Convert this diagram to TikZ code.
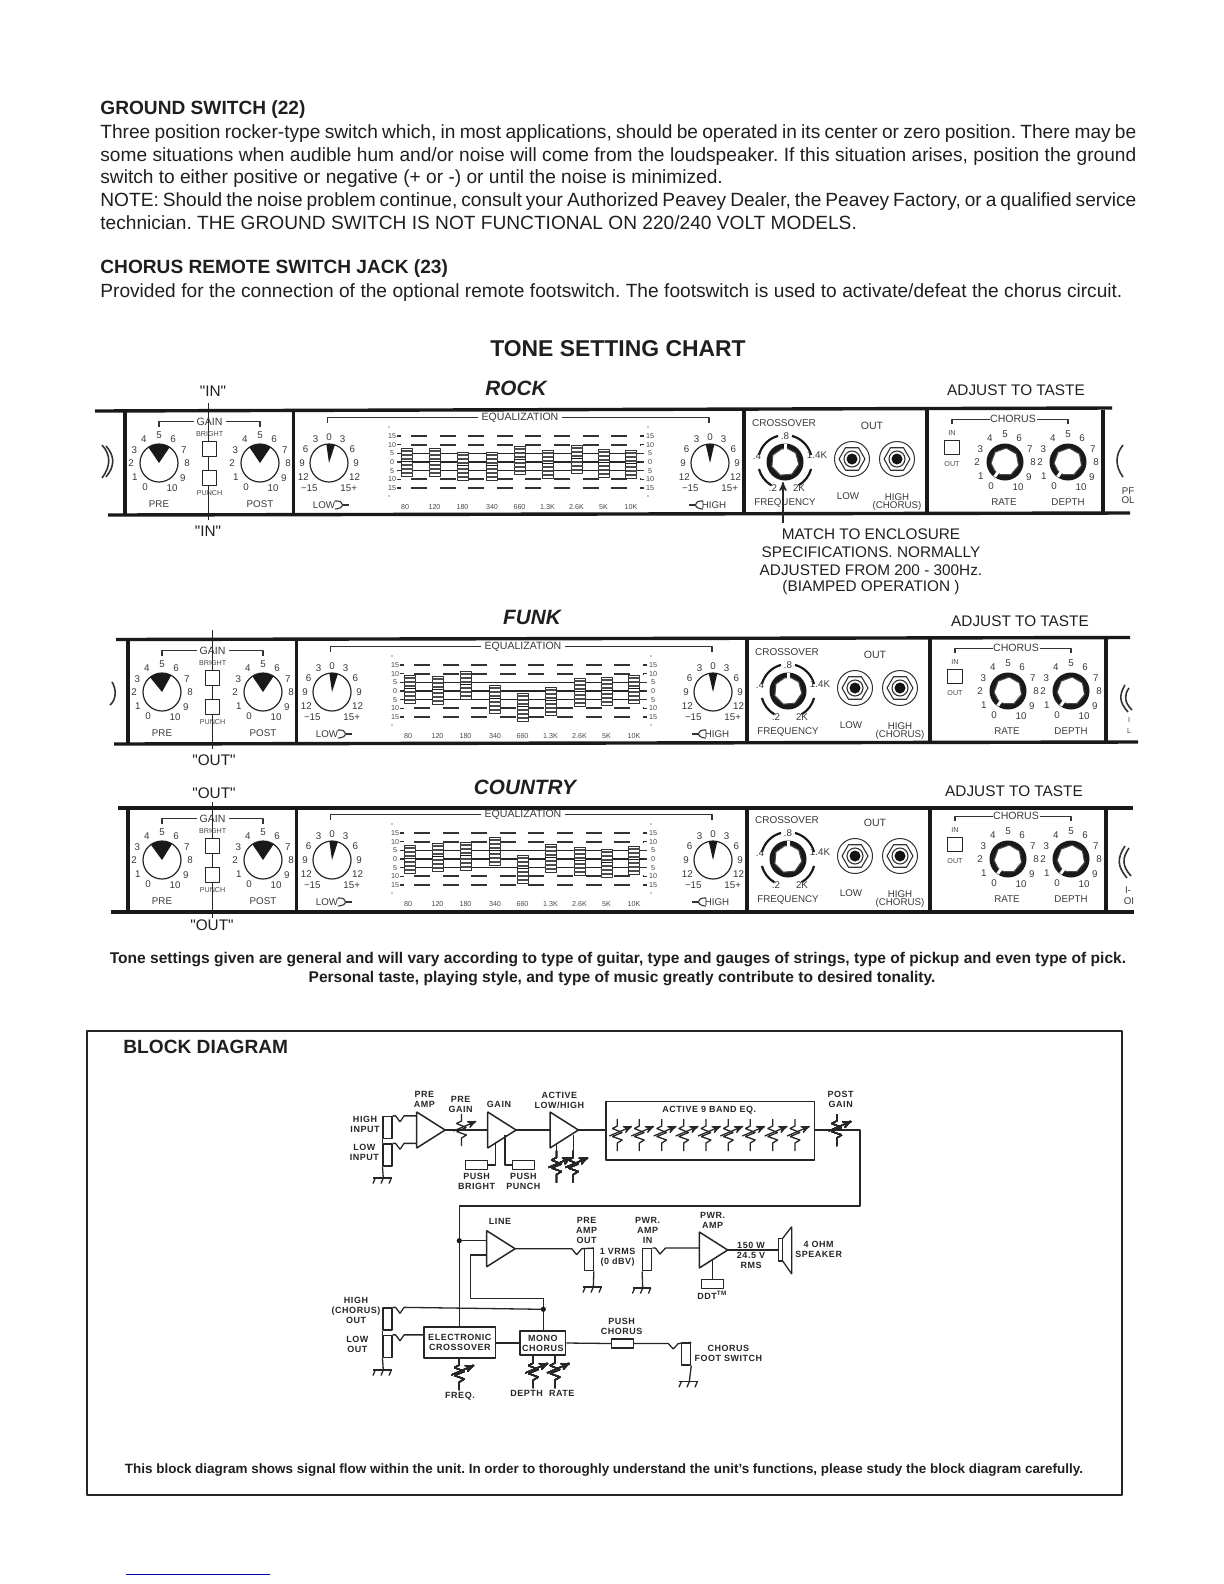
\documentclass[tikz,border=0pt]{standalone}
\usepackage[x11names, svgnames, rgb]{xcolor}
\usepackage{fontspec}
\usepackage{tikz}
\usetikzlibrary{arrows,shapes}
\setmainfont{Liberation Sans}
\newfontfamily\blockfamily[LetterSpace=6]{Liberation Sans}
\newfontfamily\plainfamily{Liberation Sans}
\newcommand{\blockfont}{\blockfamily\bfseries\fontsize{4.5}{5}\selectfont}
\newcommand{\fixfont}[1]{\fontsize{#1}{#1}\selectfont}
\newcommand{\fillline}[2]{\hbox to #1bp{#2}}
\newcommand{\dq}{{\plainfamily\char34 }}
\tikzset{
  bodytext/.style={anchor=base west,inner sep=0pt,font=\fixfont{9.6},text=Black!88},
  headtext/.style={anchor=base west,inner sep=0pt,font=\fixfont{9.6}\bfseries,text=Black!88},
  stylename/.style={inner sep=0pt,font=\fixfont{10.4}\bfseries\itshape,text=Black!88},
  notetext/.style={inner sep=0pt,font=\fixfont{7.7},text=Black!88,align=center},
  captext/.style={inner sep=0pt,font=\fixfont{7.8}\bfseries,text=Black!88},
  panelline/.style={line width=1.7bp,draw=Black!90},
  panelthin/.style={line width=0.55bp,draw=Black!80},
  grouplabel/.style={inner sep=0pt,font=\fixfont{5.3},text=Black!78},
  knoblabel/.style={inner sep=0pt,font=\fixfont{4.9},text=Black!78},
  tinylabel/.style={inner sep=0pt,font=\fixfont{3.6},text=Black!72},
  switchbox/.style={draw=Black!85,fill=White,line width=0.6bp,rectangle,inner sep=0pt,
    minimum width=7.2bp,minimum height=7.2bp},
  wire/.style={line width=0.65bp,draw=Black!85,line join=bevel},
  blocklabel/.style={inner sep=0pt,font=\blockfont,align=center,text=Black!85},
  jackbox/.style={draw=Black!85,line width=0.65bp,fill=White,rectangle,inner sep=0pt,
    minimum width=4.4bp,minimum height=11bp},
  partbox/.style={draw=Black!85,line width=0.65bp,fill=White,rectangle,inner sep=0pt,
    minimum width=11bp,minimum height=4.4bp},
  blockbox/.style={draw=Black!85,line width=0.8bp,fill=White,rectangle,inner sep=0pt,
    font=\blockfont,align=center,text=Black!85},
  amp/.style={isosceles triangle,isosceles triangle stretches,shape border rotate=0,
    draw=Black!85,line width=0.75bp,fill=White,inner sep=0pt,outer sep=0pt,
    minimum width=18bp,minimum height=14.2bp,anchor=west},
}
%% dial with a black wedge
\newcommand{\wedgeknob}[5]{
  \begin{scope}[shift={(#2,#3)},y=0.5bp]
  \node (#1) at (0,0) [circle,draw=Black!85,line width=0.6bp,minimum size=19bp,inner sep=0pt] {};
  \fill [Black!90] (0,0) -- (#4-#5:19) arc (#4-#5:#4+#5:19) -- cycle;
  \end{scope}
}
%% 0 to 10 around a dial
\newcommand{\tenscale}[3]{
  \begin{scope}[shift={(#2,#3)},y=0.5bp]
  \foreach \lab/\ang in {0/240,1/210,2/180,3/152,4/123,5/90,6/60,7/28,8/0,9/328,10/298}
    \node (#1-\ang) at (\ang:28) [knoblabel] {\lab};
  \end{scope}
}
%% -15 to 15 around a dial
\newcommand{\cutscale}[3]{
  \begin{scope}[shift={(#2,#3)},y=0.5bp]
  \foreach \lab/\ang/\rad in {{−15}/232/32,12/208/29,9/180/27,6/150/27,3/120/27,0/90/26,3/60/27,6/30/27,9/0/27,12/332/29,{15+}/308/32}
    \node (#1-\ang) at (\ang:\rad) [knoblabel] {\lab};
  \end{scope}
}
%% black ring with a white cap
\newcommand{\capknob}[4]{
  \begin{scope}[shift={(#2,#3)},y=0.5bp]
  \node (#1) at (0,0) [circle,fill=Black!90,minimum size=18.5bp,inner sep=0pt] {};
  \begin{scope}[rotate=#4]
  \draw [fill=White,draw=Black!70,line width=0.5bp] (15:13.5) -- (60:14) -- (110:14) -- (160:14) -- (210:14) -- (260:14) -- (310:14) -- (345:13.5) -- cycle;
  \draw [White,line width=1.5bp] (0:11) -- (0:18);
  \end{scope}
  \end{scope}
}
%% output socket
\newcommand{\socket}[3]{
  \begin{scope}[shift={(#2,#3)},y=0.5bp]
  \node (#1) at (0,0) [circle,draw=Black!80,line width=0.5bp,minimum size=17.5bp,inner sep=0pt] {};
  \draw [panelthin] (0:13) -- (60:13) -- (120:13) -- (180:13) -- (240:13) -- (300:13) -- cycle;
  \draw [panelthin] (0,0) circle (8);
  \fill [Black!92] (0,0) circle (5.5);
  \end{scope}
}
%% one rack strip
\newcommand{\tonepanel}[8]{
  \begin{scope}[shift={(#2,#3)}]
  \foreach \divx in {125,293.6,744,927,1103}
    \draw [panelline] (\divx,410) -- (\divx,514);
  %% gain
  \draw [panelthin] (159,427) -- (159,421.7) -- (194,421.7);
  \draw [panelthin] (226,421.7) -- (260,421.7) -- (260,427);
  \node (#1-gain) at (209.6,421.7) [grouplabel] {GAIN};
  \node (#1-bright) at (209.6,434) [tinylabel] {BRIGHT};
  \node (#1-brightsw) at (209.6,449) [switchbox] {};
  \node (#1-punchsw) at (209.6,478) [switchbox] {};
  \node (#1-punch) at (209.6,493) [tinylabel] {PUNCH};
  \wedgeknob{#1-pre}{159}{463}{#4}{34}
  \tenscale{#1-prescale}{159}{463}
  \wedgeknob{#1-post}{260}{463}{#5}{34}
  \tenscale{#1-postscale}{260}{463}
  \node (#1-prelab) at (159,504) [knoblabel] {PRE};
  \node (#1-postlab) at (260,504) [knoblabel] {POST};
  %% equalizer
  \draw [panelthin] (327.5,423) -- (327.5,417.7) -- (478,417.7);
  \draw [panelthin] (562,417.7) -- (709,417.7) -- (709,423);
  \node (#1-eq) at (520,417.5) [grouplabel] {EQUALIZATION};
  \wedgeknob{#1-low}{329}{463}{#6}{13}
  \cutscale{#1-lowscale}{329}{463}
  \wedgeknob{#1-high}{710}{463}{#7}{13}
  \cutscale{#1-highscale}{710}{463}
  \node (#1-lowlab) at (324,505) [knoblabel] {LOW};
  \draw [panelthin] (335,501) .. controls (345,500) and (345,509) .. (335,509);
  \draw [panelthin] (342.5,505) -- (349,505);
  \node (#1-highlab) at (714,505) [knoblabel] {HIGH};
  \draw [panelthin] (703,501) .. controls (693,500) and (693,509) .. (703,509);
  \draw [panelthin] (689,505) -- (695.5,505);
  \foreach \lab/\yc [count=\c] in {15/436,10/444.7,5/453.3,0/462,5/470.7,10/479.3,15/488}{
    \node (#1-left\c) at (392,\yc) [tinylabel] {\lab};
    \node (#1-right\c) at (650,\yc) [tinylabel] {\lab};
    \draw [panelthin] (397,\yc) -- (401,\yc);
    \draw [panelthin] (640,\yc) -- (644,\yc);
  }
  \foreach \yc in {436,444.7,479.3,488}
    \draw [line width=0.9bp,draw=Black!80,dash pattern=on 8bp off 6.3bp] (411,\yc) -- (640,\yc);
  \foreach \yc in {453.3,462,470.7}
    \draw [line width=0.7bp,draw=Black!85] (401,\yc) -- (640,\yc);
  \foreach \off [count=\c] in {#8}{
    \pgfmathsetmacro{\colx}{{407,434.5,462.5,492,519.5,547.5,576.5,603.5,631}[\c-1]}
    \draw [fill=White,draw=Black!80,line width=0.5bp] (\colx-5.5,448+\off) rectangle (\colx+5.5,476+\off);
    \foreach \bar in {451,455,459,465,469,473}
      \fill [Black!70] (\colx-5.5,\bar+\off-1) rectangle (\colx+5.5,\bar+\off+1);
    \fill [Black!90] (\colx-5.5,461+\off) rectangle (\colx+5.5,462+\off);
  }
  \foreach \lab/\colx [count=\c] in {80/405,120/434.5,180/462.5,340/492,660/519.5,1.3K/547.5,2.6K/576.5,5K/603.5,10K/631}
    \node (#1-band\c) at (\colx,507) [tinylabel] {\lab};
  \fill (389,427) circle (0.7);
  \fill (389,496) circle (0.7);
  \fill (648,427) circle (0.7);
  \fill (648,496) circle (0.7);
  %% crossover
  \node (#1-cross) at (784,423) [knoblabel,font=\fixfont{5}] {CROSSOVER};
  \capknob{#1-freq}{785}{462}{90}
  \begin{scope}[shift={(785,462)},y=0.5bp]
  \foreach \arcfrom/\arcto in {105/165,15/75,195/240,300/345}
    \draw [line width=1.1bp,draw=Black!90] (\arcfrom:27) arc (\arcfrom:\arcto:27);
  \end{scope}
  \node (#1-f8) at (785,436) [knoblabel] {.8};
  \node (#1-f4) at (757,456) [knoblabel] {.4};
  \node (#1-f14) at (817,455) [knoblabel] {1.4K};
  \node (#1-f2) at (773,488) [knoblabel] {.2};
  \node (#1-f2k) at (799,488) [knoblabel] {2K};
  \node (#1-freqlab) at (785,503) [knoblabel] {FREQUENCY};
  %% outputs
  \node (#1-out) at (872,426) [grouplabel] {OUT};
  \socket{#1-jacklow}{852}{459}
  \socket{#1-jackhigh}{897}{459}
  \node (#1-lowout) at (848,496) [knoblabel] {LOW};
  \node (#1-highout) at (897,497) [knoblabel] {HIGH};
  \node (#1-chorusout) at (897,505.5) [knoblabel] {(CHORUS)};
  %% chorus
  \draw [panelthin] (952,424) -- (952,419.5) -- (990,419.5);
  \draw [panelthin] (1037,419.5) -- (1068,419.5) -- (1068,424);
  \node (#1-chorus) at (1013,419) [grouplabel] {CHORUS};
  \node (#1-in) at (952,433) [tinylabel] {IN};
  \node (#1-chorussw) at (952,447.5) [switchbox] {};
  \node (#1-outsw) at (952,464) [tinylabel] {OUT};
  \capknob{#1-rate}{1005}{462}{235}
  \tenscale{#1-ratescale}{1005}{462}
  \capknob{#1-depth}{1068}{462}{235}
  \tenscale{#1-depthscale}{1068}{462}
  \node (#1-ratelab) at (1004,502) [knoblabel] {RATE};
  \node (#1-depthlab) at (1068,502) [knoblabel] {DEPTH};
  \end{scope}
}
%% variable resistor
\newcommand{\potmeter}[3]{
  \begin{scope}[shift={(#2,#3)},y=0.5bp]
  \coordinate (#1) at (0,0);
  \coordinate (#1-top) at (0,16);
  \coordinate (#1-bot) at (0,-16);
  \draw [wire] (#1-top) -- (0,9) -- (-5,6.5) -- (5,2.5) -- (-5,-1.5) -- (5,-5) -- (0,-8) -- (#1-bot);
  \draw [wire,-stealth',shorten >=-1pt] (-8,-1) -- (13,8);
  \end{scope}
}
%% ground
\newcommand{\groundsym}[3]{
  \coordinate (#1) at (#2,#3);
  \draw [wire] (#2-10,#3) -- (#2+8.5,#3);
  \foreach \tick in {-8,0,8}
    \draw [wire] (#2+\tick,#3) -- (#2+\tick-2.3,#3+5.5);
}
\begin{document}
\frenchspacing
\begin{tikzpicture}[x=0.5bp,y=-0.5bp, >=latex',line join=bevel,]
\useasboundingbox (0,0) rectangle (1224,1584);
%%
\node (ground-head) at (100,114) [headtext] {GROUND SWITCH (22)};
\node (ground-a) at (100,138) [bodytext] {\fillline{518}{Three position rocker-type switch which, in most applications, should be operated in its center or zero position. There may be}};
\node (ground-b) at (100,161) [bodytext] {\fillline{518}{some situations when audible hum and/or noise will come from the loudspeaker. If this situation arises, position the ground}};
\node (ground-c) at (100,183) [bodytext] {switch to either positive or negative (+ or -) or until the noise is minimized.};
\node (ground-d) at (100,206) [bodytext] {\fillline{518}{NOTE: Should the noise problem continue, consult your Authorized Peavey Dealer, the Peavey Factory, or a qualified service}};
\node (ground-e) at (100,229) [bodytext] {technician. THE GROUND SWITCH IS NOT FUNCTIONAL ON 220/240 VOLT MODELS.};
\node (jack-head) at (100,273) [headtext] {CHORUS REMOTE SWITCH JACK (23)};
\node (jack-a) at (100,297) [bodytext] {\fillline{511}{Provided for the connection of the optional remote footswitch. The footswitch is used to activate/defeat the chorus circuit.}};
\node (chart-title) at (618,349) [inner sep=0pt,font=\fixfont{11.5}\bfseries,text=Black!88] {TONE SETTING CHART};
%%
\node (rock-name) at (516,388) [stylename] {ROCK};
\node (rock-taste) at (1016,390) [notetext] {ADJUST TO TASTE};
\node (rock-in-top) at (213,391) [notetext] {\dq IN\dq};
\node (rock-in-bot) at (208,531) [notetext] {\dq IN\dq};
\coordinate (rock-sw-top) at (208.5,403);
\coordinate (rock-sw-bot) at (208.5,520);
\draw [wire] (rock-sw-top) -- (rock-sw-bot);
\draw [panelline] (95,411) -- (1112,408);
\draw [panelline] (108,515) -- (1130,513);
\tonepanel{rock}{0}{0}{90}{90}{85}{90}{0,0,4,4,-2,2,-3,1,2}
\node (rock-match) at (871,534) [notetext] {MATCH TO ENCLOSURE};
\node (rock-spec) at (871,552) [notetext] {SPECIFICATIONS. NORMALLY};
\node (rock-range) at (871,570) [notetext] {ADJUSTED FROM 200 - 300Hz.};
\node (rock-biamp) at (871,588) [notetext] {(BIAMPED OPERATION )};
\coordinate (rock-arrow-bot) at (783,523);
\coordinate (rock-arrow-top) at (783,482);
\draw [wire,-stealth'] (rock-arrow-bot) -- (rock-arrow-top);
\draw [panelthin,line width=0.8bp] (102,445) .. controls (111,455) and (111,466) .. (102,478);
\draw [panelthin,line width=0.8bp] (106,446) .. controls (115,456) and (115,466) .. (106,477);
\draw [panelthin,line width=0.8bp] (1123,445) .. controls (1115,455) and (1115,466) .. (1123,477);
\node (rock-edge-a) at (1128,491) [knoblabel] {PF};
\node (rock-edge-b) at (1128,500) [knoblabel] {OL};
%%
\node (funk-name) at (532,617) [stylename] {FUNK};
\node (funk-taste) at (1020,621) [notetext] {ADJUST TO TASTE};
\node (funk-out-bot) at (214,760) [notetext] {\dq OUT\dq};
\coordinate (funk-sw-top) at (212.6,630);
\coordinate (funk-sw-bot) at (212.6,749);
\draw [wire] (funk-sw-top) -- (funk-sw-bot);
\draw [panelline] (116,639.5) -- (1130,637.5);
\draw [panelline] (114,744) -- (1138,742);
\tonepanel{funk}{3}{229}{95}{90}{85}{90}{-2,-1,-6,8,16,10,1,0,-2}
\draw [panelthin,line width=0.8bp] (112,682) .. controls (117,690) and (116,700) .. (110,705);
\draw [panelthin,line width=0.8bp] (1125,685) .. controls (1119,695) and (1119,702) .. (1128,712);
\draw [panelthin,line width=0.8bp] (1129,688) .. controls (1124,695) and (1124,702) .. (1132,710);
\node (funk-edge-a) at (1129,720) [tinylabel] {I};
\node (funk-edge-b) at (1129,731) [tinylabel] {L};
%%
\node (country-name) at (525,787) [stylename] {COUNTRY};
\node (country-taste) at (1014,791) [notetext] {ADJUST TO TASTE};
\node (country-out-top) at (214,793) [notetext] {\dq OUT\dq};
\node (country-out-bot) at (212,925) [notetext] {\dq OUT\dq};
\coordinate (country-sw-top) at (212.6,802);
\coordinate (country-sw-bot) at (212.6,918);
\draw [wire] (country-sw-top) -- (country-sw-bot);
\draw [panelline] (118,808) -- (1133,808);
\draw [panelline] (111,912) -- (1134,912);
\tonepanel{country}{3}{397}{92}{90}{85}{90}{0,-2,-3,-8,10,-1,2,4,1}
\draw [panelthin,line width=0.8bp] (1125,846) .. controls (1117,858) and (1117,866) .. (1127,878);
\draw [panelthin,line width=0.8bp] (1129,848) .. controls (1122,858) and (1122,866) .. (1131,876);
\node (country-edge-a) at (1128,890) [knoblabel] {I-};
\node (country-edge-b) at (1129,901) [knoblabel] {OI};
%%
\node (tone-note-a) at (618,960) [captext] {Tone settings given are general and will vary according to type of guitar, type and gauges of strings, type of pickup and even type of pick.};
\node (tone-note-b) at (622,979) [captext] {Personal taste, playing style, and type of music greatly contribute to desired tonality.};
%%
\draw [line width=0.9bp,draw=Black!85] (87,1031) rectangle (1122,1495);
\node (block-title) at (123,1047) [anchor=west,inner sep=0pt,font=\fixfont{9.6}\bfseries,text=Black!88] {BLOCK DIAGRAM};
\node (block-note) at (604,1470) [captext,font=\fixfont{6.75}\bfseries] {This block diagram shows signal flow within the unit. In order to thoroughly understand the unit's functions, please study the block diagram carefully.};
%% amplifiers
\node (preamp) at (416.7,1130) [amp] {};
\node (gainamp) at (487.7,1130) [amp] {};
\node (activeamp) at (550,1130) [amp] {};
\node (lineamp) at (486.7,1248.7) [amp] {};
\node (pwramp) at (699.3,1250) [amp] {};
%% boxes
\node (jackhigh) at (387.5,1127.5) [jackbox] {};
\node (jacklow) at (387.5,1155) [jackbox] {};
\node (eqbox) at (710,1130.8) [draw=Black!85,line width=0.8bp,rectangle,inner sep=0pt,minimum width=104.3bp,minimum height=29.2bp] {};
\node (bright) at (476.7,1165) [partbox] {};
\node (punch) at (523.2,1165) [partbox] {};
\node (jackpre) at (588.8,1259.7) [jackbox] {};
\node (jackpwr) at (647.2,1259.7) [jackbox] {};
\node (ddt) at (712.2,1284.2) [partbox] {};
\node (jackchorus) at (387.5,1319) [jackbox] {};
\node (jackxlow) at (387.5,1346.5) [jackbox] {};
\node (crossover) at (459.8,1342.2) [blockbox,minimum width=35.8bp,minimum height=15.5bp] {ELECTRONIC\\CROSSOVER};
\node (monochorus) at (542.8,1343) [blockbox,minimum width=22.8bp,minimum height=12bp] {MONO\\CHORUS};
\node (pushchorus) at (622.5,1343.5) [partbox] {};
\node (jackfoot) at (686.2,1354) [jackbox] {};
%% pots
\potmeter{pregain}{461.5}{1130}
\foreach \potx [count=\c] in {617.3,639.3,661.7,683.7,706,728.3,750.3,772.7,795}
  \potmeter{band\c}{\potx}{1135}
\potmeter{postgain}{836.7}{1130}
\potmeter{activelow}{556.5}{1166.5}
\potmeter{activehigh}{573.3}{1166.5}
\potmeter{freq}{459.3}{1374}
\potmeter{depth}{533.3}{1372}
\potmeter{rate}{555}{1372}
%% wires
\coordinate (feed-corner) at (860,1130);
\coordinate (feed-low) at (860,1206);
\coordinate (feed-left) at (459.3,1206);
\coordinate (line-tap) at (459.3,1240.7);
\coordinate (line-return) at (470.7,1255);
\coordinate (return-low) at (470.7,1298.3);
\coordinate (return-right) at (543.3,1298.3);
\coordinate (chorus-tap) at (543.3,1309.3);
\draw [wire] (jackhigh.north east) -- ++(3,0) -- ++(4.5,6) -- ++(4,-6) -- (preamp.west |- jackhigh.north);
\draw [wire] (jacklow.north east) -- ++(3,0) -- ++(4.5,6) -- ++(4,-6) -- (preamp.west |- jacklow.north);
\draw [wire] (jackhigh.south west) -- (jacklow.north west);
\groundsym{groundin}{383.3}{1178}
\draw [wire] (jacklow.south west) -- (groundin);
\draw [wire] (preamp.apex) -- (gainamp.west);
\draw [wire] (gainamp.apex) -- (activeamp.west);
\draw [wire] (activeamp.apex) -- (eqbox.west |- activeamp.apex);
\draw [wire] (eqbox.east |- feed-corner) -- (feed-corner) -- (feed-low) -- (feed-left) -- (crossover.north -| feed-left);
\fill [Black!90] (line-tap) circle (2.6);
\draw [wire] (line-tap) -- (lineamp.west |- line-tap);
\draw [wire] (lineamp.west |- line-return) -- (line-return) -- (return-low) -- (return-right) -- (monochorus.north -| return-right);
\fill [Black!90] (chorus-tap) circle (2.6);
\coordinate (bright-drop) at (495.7,1141.7);
\draw [wire] (bright-drop) -- (bright-drop |- bright.east) -- (bright.east);
\coordinate (punch-drop) at (505,1135);
\draw [wire] (punch-drop) -- (punch-drop |- punch.west) -- (punch.west);
\coordinate (activelow-drop) at (556.5,1144);
\draw [wire] (activelow-drop) -- (activelow-top);
\coordinate (activehigh-drop) at (573.3,1135);
\draw [wire] (activehigh-drop) -- (activehigh-top);
\draw [wire] (lineamp.apex) -- (571.7,1248.7) -- ++(5,6) -- ++(5,-6) -- (jackpre.north east);
\groundsym{groundpre}{593.3}{1287}
\draw [wire] (jackpre.south east) -- (groundpre);
\draw [wire] (jackpwr.north east) -- ++(3.3,0) -- ++(4.3,6) -- ++(5.7,-6) -- (pwramp.west |- jackpwr.north);
\groundsym{groundpwr}{642.7}{1288}
\draw [wire] (jackpwr.south west) -- (groundpwr);
\coordinate (ddt-drop) at (712.2,1259);
\draw [wire] (ddt-drop) -- (ddt.north);
\coordinate (speaker) at (778.3,1250);
\draw [wire] (pwramp.apex) -- (speaker);
\draw [wire] (778.3,1238.3) rectangle (782.7,1261);
\draw [wire] (782.7,1238.3) -- (791.7,1226.7) -- (791.7,1274) -- (782.7,1261);
\draw [wire] (jackchorus.north east) -- ++(3,0) -- ++(4.5,6) -- ++(4,-6) -- (chorus-tap);
\draw [wire] (jackxlow.north east) -- ++(3,0) -- ++(4.5,6) -- ++(4,-6) -- (crossover.west |- jackxlow.north);
\draw [wire] (jackchorus.south west) -- (jackxlow.north west);
\groundsym{groundout}{383.3}{1370}
\draw [wire] (jackxlow.south west) -- (groundout);
\draw [wire] (crossover.east |- monochorus.west) -- (monochorus.west);
\draw [wire] (monochorus.east) -- (pushchorus.west);
\draw [wire] (pushchorus.east) -- (668.3,1343.5) -- ++(5,5.5) -- ++(5,-5.5) -- (jackfoot.north east);
\groundsym{groundfoot}{689.3}{1381.7}
\draw [wire] (jackfoot.south east) -- (groundfoot);
\draw [wire] (freq-top) -- (freq-top |- crossover.south);
\draw [wire] (depth-top) -- (depth-top |- monochorus.south);
\draw [wire] (rate-top) -- (rate-top |- monochorus.south);
%% labels
\node (lab-preamp) at (424.3,1099.3) [blocklabel] {PRE\\AMP};
\node (lab-pregain) at (460.7,1104) [blocklabel] {PRE\\GAIN};
\node (lab-gain) at (499,1104.3) [blocklabel] {GAIN};
\node (lab-active) at (559.3,1100) [blocklabel] {ACTIVE\\LOW/HIGH};
\node (lab-high) at (365,1124.3) [blocklabel] {HIGH\\INPUT};
\node (lab-low) at (364.3,1152) [blocklabel] {LOW\\INPUT};
\node (lab-bright) at (476.7,1181) [blocklabel] {PUSH\\BRIGHT};
\node (lab-punch) at (523.3,1181) [blocklabel] {PUSH\\PUNCH};
\node (lab-eq) at (709.3,1110.7) [blocklabel] {ACTIVE 9 BAND EQ.};
\node (lab-post) at (840.7,1099) [blocklabel] {POST\\GAIN};
\node (lab-line) at (500,1221.7) [blocklabel] {LINE};
\node (lab-preout) at (586.7,1230) [blocklabel] {PRE\\AMP\\OUT};
\node (lab-pwrin) at (647.7,1230) [blocklabel] {PWR.\\AMP\\IN};
\node (lab-pwr) at (712.7,1220) [blocklabel] {PWR.\\AMP};
\node (lab-vrms) at (617.7,1257.3) [blocklabel] {1 VRMS\\(0 dBV)};
\node (lab-watts) at (751,1255.3) [blocklabel] {150 W\\24.5 V\\RMS};
\node (lab-speaker) at (818.7,1249) [blocklabel] {4 OHM\\SPEAKER};
\node (lab-ddt) at (712.3,1295) [blocklabel] {DDT\textsuperscript{TM}};
\node (lab-chorusout) at (356,1310.3) [blocklabel] {HIGH\\(CHORUS)\\OUT};
\node (lab-lowout) at (357.3,1344.3) [blocklabel] {LOW\\OUT};
\node (lab-freq) at (460,1396.7) [blocklabel] {FREQ.};
\node (lab-depth) at (526.7,1393.3) [blocklabel] {DEPTH};
\node (lab-rate) at (561.7,1393.3) [blocklabel] {RATE};
\node (lab-push) at (621.7,1326.7) [blocklabel] {PUSH\\CHORUS};
\node (lab-foot) at (728.3,1353.3) [blocklabel] {CHORUS\\FOOT SWITCH};
%%
\coordinate (rule-left) at (126,1574);
\coordinate (rule-right) at (270,1574);
\draw [line width=0.5bp,draw=Blue!70!Black] (rule-left) -- (rule-right);
\end{tikzpicture}
\end{document}
